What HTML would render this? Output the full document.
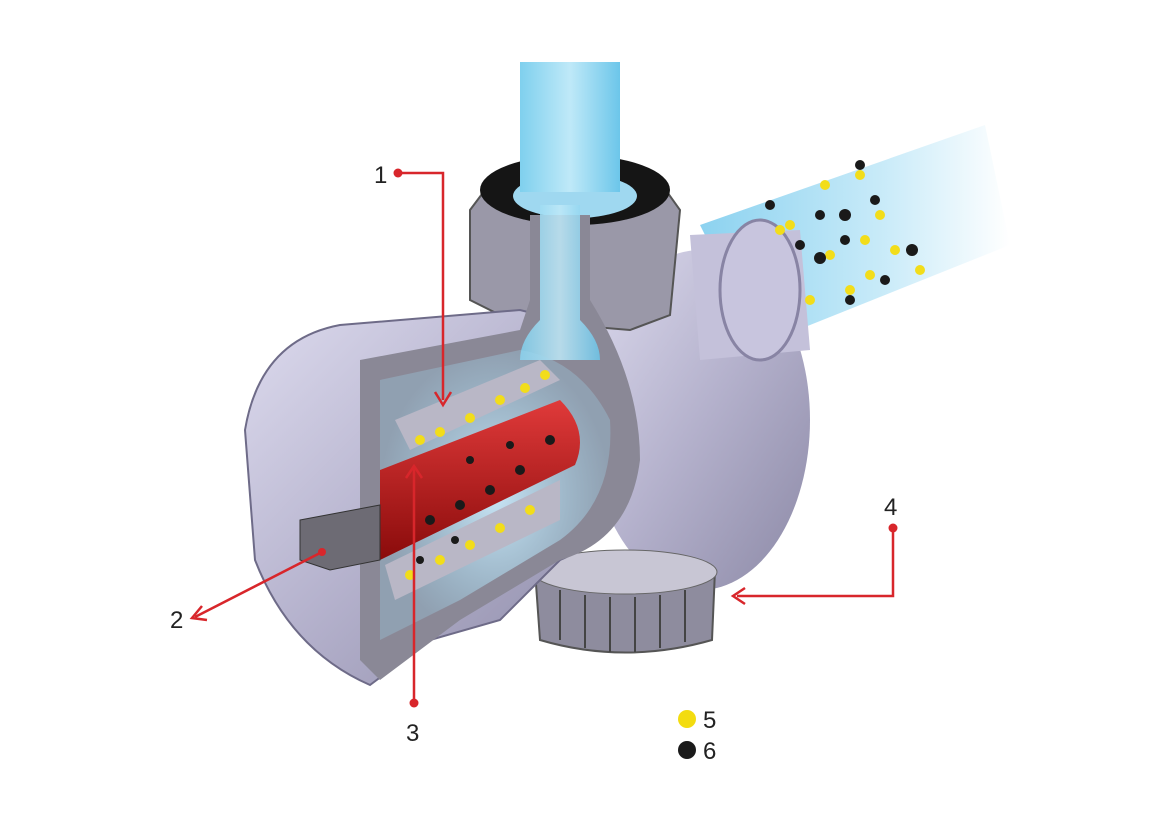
<!DOCTYPE html>
<html><head><meta charset="utf-8"><style>
html,body{margin:0;padding:0;background:#fff;}
svg{display:block;}
text{font-family:"Liberation Sans",sans-serif;font-size:24px;fill:#222;}
</style></head><body>
<svg width="1160" height="817" viewBox="0 0 1160 817" xmlns="http://www.w3.org/2000/svg">
<defs>
<linearGradient id="vpipe" x1="0" x2="1" y1="0" y2="0">
<stop offset="0" stop-color="#7fd0ee"/><stop offset="0.5" stop-color="#bfe9f8"/><stop offset="1" stop-color="#6cc6ea"/></linearGradient>
<linearGradient id="dpipe" x1="0" x2="1" y1="0" y2="0">
<stop offset="0" stop-color="#7fcdee"/><stop offset="0.6" stop-color="#c4e9f8"/><stop offset="1" stop-color="#ffffff"/></linearGradient>
<linearGradient id="body" x1="0" x2="1" y1="0" y2="1">
<stop offset="0" stop-color="#dddbee"/><stop offset="0.5" stop-color="#b4b1cc"/><stop offset="1" stop-color="#8c89a6"/></linearGradient>
<linearGradient id="red" x1="0" x2="0" y1="0" y2="1">
<stop offset="0" stop-color="#e03a3a"/><stop offset="1" stop-color="#8a0b0b"/></linearGradient>
<radialGradient id="glow" cx="0.5" cy="0.5" r="0.5">
<stop offset="0" stop-color="#cfefff" stop-opacity="0.9"/><stop offset="1" stop-color="#9fd8f0" stop-opacity="0.3"/></radialGradient>
</defs>
<rect width="1160" height="817" fill="#fff"/>
<polygon points="700,225 985,125 1010,245 760,345" fill="url(#dpipe)" opacity="0.9"/>
<rect x="520" y="62" width="100" height="150" fill="url(#vpipe)"/>
<ellipse cx="700" cy="420" rx="110" ry="170" fill="url(#body)"/>
<polygon points="690,235 800,230 810,350 700,360" fill="#c4c1da"/>
<ellipse cx="760" cy="290" rx="40" ry="70" fill="#c8c5de" stroke="#8884a4" stroke-width="3"/>
<path d="M535,570 L715,570 L712,640 Q625,665 540,640 Z" fill="#8e8c9e" stroke="#555" stroke-width="2"/>
<ellipse cx="625" cy="572" rx="92" ry="22" fill="#c8c6d4" stroke="#666"/>
<g stroke="#444" stroke-width="2">
<line x1="560" y1="590" x2="560" y2="640"/><line x1="585" y1="595" x2="585" y2="648"/><line x1="610" y1="597" x2="610" y2="652"/><line x1="635" y1="597" x2="635" y2="652"/><line x1="660" y1="595" x2="660" y2="648"/><line x1="685" y1="590" x2="685" y2="642"/></g>
<polygon points="470,210 500,170 655,175 680,210 670,315 630,330 510,320 470,300" fill="#9a98a8" stroke="#555" stroke-width="2"/>
<ellipse cx="575" cy="190" rx="95" ry="35" fill="#151515"/>
<ellipse cx="575" cy="196" rx="62" ry="22" fill="#9fd8f0"/>
<rect x="520" y="62" width="100" height="130" fill="url(#vpipe)"/>
<path d="M245,430 Q260,340 340,325 L520,310 L560,320 Q610,380 620,460 Q610,540 560,560 L500,620 L430,640 L370,685 Q290,650 255,560 Z" fill="url(#body)" stroke="#6e6b88" stroke-width="2"/>
<path d="M360,360 L520,330 L530,300 L530,215 L590,215 L590,300 Q640,380 640,460 Q630,540 560,560 L460,620 L380,680 L360,660 Z" fill="#8a8896"/>
<path d="M540,205 L580,205 L580,320 Q600,340 600,360 L520,360 Q520,340 540,320 Z" fill="url(#vpipe)" opacity="0.85"/>
<path d="M380,380 L520,350 Q580,360 610,420 Q615,500 560,540 L460,600 L380,640 Z" fill="url(#glow)"/>
<path d="M395,420 L540,360 L560,380 L410,450 Z" fill="#b9b7c6"/>
<path d="M380,470 L560,400 Q590,430 575,465 L380,560 Z" fill="url(#red)"/>
<path d="M385,565 L560,480 L560,520 L395,600 Z" fill="#b9b7c6"/>
<path d="M300,520 L380,505 L380,560 L330,570 L300,560 Z" fill="#6d6b74" stroke="#333"/>
<g fill="#f2dd1a">
<circle cx="420" cy="440" r="5"/><circle cx="440" cy="432" r="5"/><circle cx="470" cy="418" r="5"/><circle cx="500" cy="400" r="5"/><circle cx="525" cy="388" r="5"/><circle cx="545" cy="375" r="5"/>
<circle cx="410" cy="575" r="5"/><circle cx="440" cy="560" r="5"/><circle cx="470" cy="545" r="5"/><circle cx="500" cy="528" r="5"/><circle cx="530" cy="510" r="5"/>
<circle cx="790" cy="225" r="5"/><circle cx="825" cy="185" r="5"/><circle cx="860" cy="175" r="5"/><circle cx="880" cy="215" r="5"/><circle cx="830" cy="255" r="5"/><circle cx="865" cy="240" r="5"/><circle cx="895" cy="250" r="5"/><circle cx="920" cy="270" r="5"/><circle cx="810" cy="300" r="5"/><circle cx="850" cy="290" r="5"/><circle cx="870" cy="275" r="5"/><circle cx="780" cy="230" r="5"/>
</g>
<g fill="#1a1a1a">
<circle cx="430" cy="520" r="5"/><circle cx="460" cy="505" r="5"/><circle cx="490" cy="490" r="5"/><circle cx="520" cy="470" r="5"/><circle cx="550" cy="440" r="5"/><circle cx="470" cy="460" r="4"/><circle cx="510" cy="445" r="4"/><circle cx="420" cy="560" r="4"/><circle cx="455" cy="540" r="4"/>
<circle cx="770" cy="205" r="5"/><circle cx="820" cy="215" r="5"/><circle cx="845" cy="215" r="6"/><circle cx="860" cy="165" r="5"/><circle cx="875" cy="200" r="5"/><circle cx="820" cy="258" r="6"/><circle cx="845" cy="240" r="5"/><circle cx="850" cy="300" r="5"/><circle cx="912" cy="250" r="6"/><circle cx="800" cy="245" r="5"/><circle cx="885" cy="280" r="5"/>
</g>
<g stroke="#d8262b" stroke-width="2.5" fill="none">
<polyline points="398,173 443,173 443,400"/>
<polyline points="435,392 443,405 451,392"/>
<line x1="322" y1="552" x2="195" y2="617"/>
<polyline points="202,606 192,618 207,620"/>
<line x1="414" y1="703" x2="414" y2="468"/>
<polyline points="406,478 414,466 422,478"/>
<polyline points="893,528 893,596 737,596"/>
<polyline points="745,588 733,596 745,604"/>
</g>
<g fill="#d8262b">
<circle cx="398" cy="173" r="4.5"/><circle cx="414" cy="703" r="4.5"/><circle cx="893" cy="528" r="4.5"/><circle cx="322" cy="552" r="4"/></g>
<text x="374" y="183">1</text>
<text x="170" y="628">2</text>
<text x="406" y="741">3</text>
<text x="884" y="515">4</text>
<circle cx="687" cy="719" r="9" fill="#f3dc10"/>
<circle cx="687" cy="750" r="9" fill="#1a1a1a"/>
<text x="703" y="728">5</text>
<text x="703" y="759">6</text>
</svg>
</body></html>
